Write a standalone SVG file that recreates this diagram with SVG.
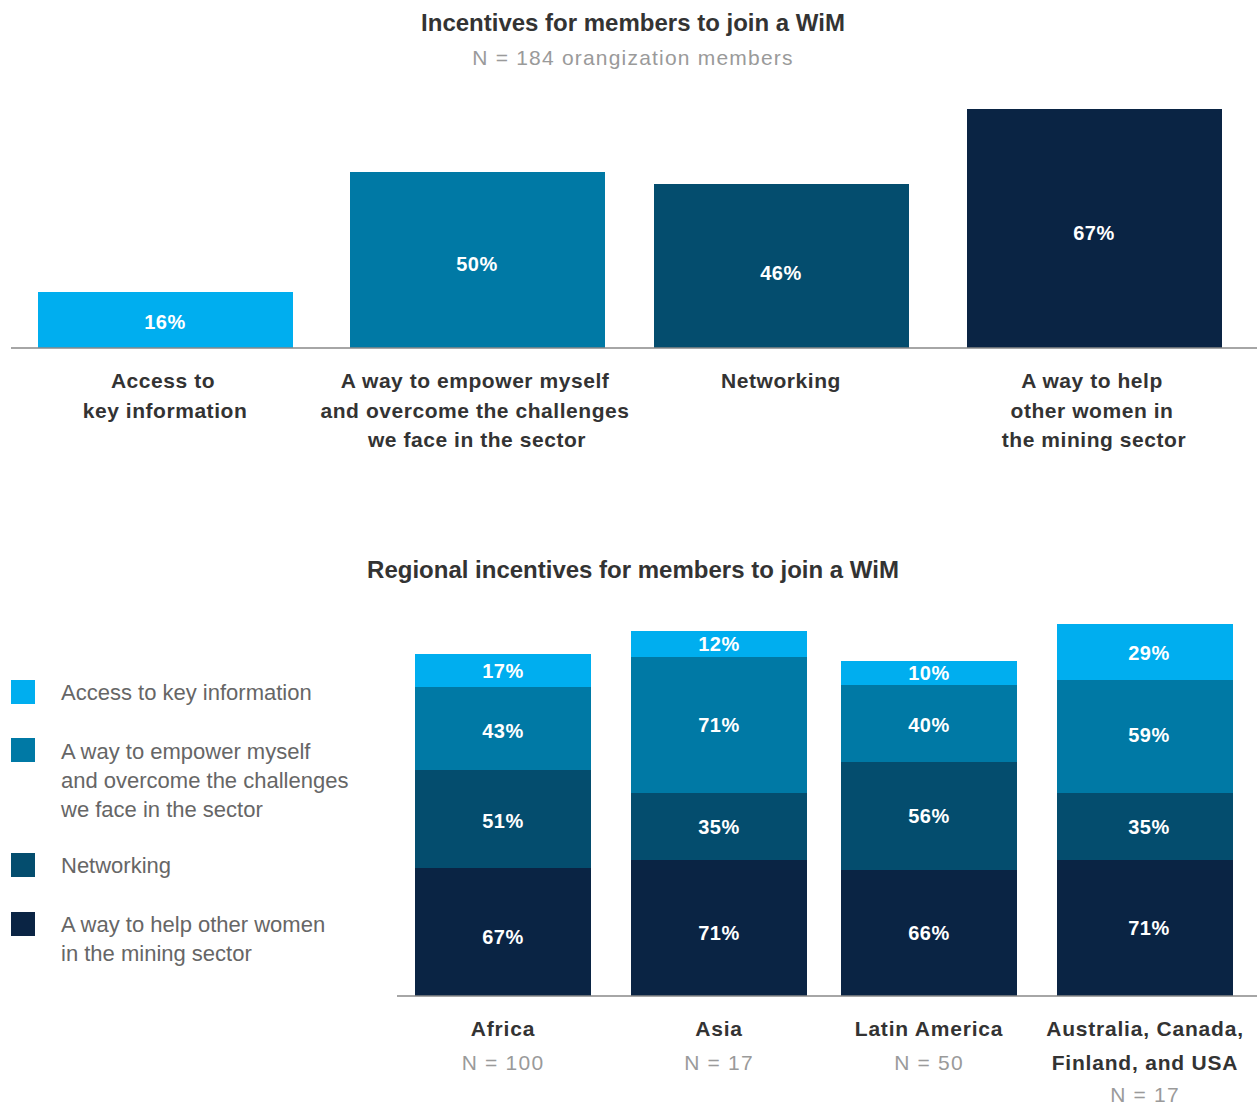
<svg xmlns="http://www.w3.org/2000/svg" width="1257" height="1104" viewBox="0 0 1257 1104">
<style>
.t{font-family:"Liberation Sans",Arial,sans-serif;font-weight:bold;fill:#333;text-anchor:middle;font-size:24px}
.sub{font-family:"Liberation Sans",Arial,sans-serif;fill:#9a9a9a;text-anchor:middle;font-size:21px;letter-spacing:1.2px}
.cat{font-family:"Liberation Sans",Arial,sans-serif;font-weight:bold;fill:#333;font-size:21px;letter-spacing:0.55px;text-anchor:middle}
.reg{font-family:"Liberation Sans",Arial,sans-serif;font-weight:bold;fill:#333;font-size:21px;letter-spacing:0.8px;text-anchor:middle}
.v{font-family:"Liberation Sans",Arial,sans-serif;font-weight:bold;fill:#fff;font-size:20px;letter-spacing:0.5px;text-anchor:middle}
.leg{font-family:"Liberation Sans",Arial,sans-serif;fill:#666;font-size:22px}
.c1{fill:#00aeef}.c2{fill:#0079a5}.c3{fill:#044d6e}.c4{fill:#0a2444}
.axis{stroke:#888;stroke-width:1.5}
</style>
<rect width="1257" height="1104" fill="#fff"/>
<text class="t" x="633" y="31">Incentives for members to join a WiM</text>
<text class="sub" x="633" y="65">N = 184 orangization members</text>

<g id="top-chart">
<g id="bar-access"><rect class="c1" x="38" y="292" width="255" height="56"/><text class="v" x="165" y="329">16%</text></g>
<g id="bar-empower"><rect class="c2" x="350" y="172" width="255" height="176"/><text class="v" x="477" y="271">50%</text></g>
<g id="bar-networking"><rect class="c3" x="654" y="184" width="255" height="164"/><text class="v" x="781" y="280">46%</text></g>
<g id="bar-help"><rect class="c4" x="967" y="109" width="255" height="239"/><text class="v" x="1094" y="240">67%</text></g>
<line class="axis" x1="11" y1="348" x2="1257" y2="348"/>
<g id="lab-access"><text class="cat" x="163" y="388">Access to</text><text class="cat" x="165" y="418">key information</text></g>
<g id="lab-empower"><text class="cat" x="475" y="388">A way to empower myself</text><text class="cat" x="475" y="418">and overcome the challenges</text><text class="cat" x="477" y="447">we face in the sector</text></g>
<g id="lab-networking"><text class="cat" x="781" y="388">Networking</text></g>
<g id="lab-help"><text class="cat" x="1092" y="388">A way to help</text><text class="cat" x="1092" y="418">other women in</text><text class="cat" x="1094" y="447">the mining sector</text></g>
</g>

<text class="t" x="633" y="578">Regional incentives for members to join a WiM</text>

<g id="legend">
<g id="leg-access"><rect class="c1" x="11" y="680" width="24" height="24"/><text class="leg" x="61" y="700">Access to key information</text></g>
<g id="leg-empower"><rect class="c2" x="11" y="738" width="24" height="24"/><text class="leg" x="61" y="759">A way to empower myself</text><text class="leg" x="61" y="788">and overcome the challenges</text><text class="leg" x="61" y="817">we face in the sector</text></g>
<g id="leg-networking"><rect class="c3" x="11" y="853" width="24" height="24"/><text class="leg" x="61" y="873">Networking</text></g>
<g id="leg-help"><rect class="c4" x="11" y="912" width="24" height="24"/><text class="leg" x="61" y="932">A way to help other women</text><text class="leg" x="61" y="961">in the mining sector</text></g>
</g>

<g id="bottom-chart">
<g id="africa">
<rect class="c1" x="415" y="654" width="176" height="33"/><rect class="c2" x="415" y="687" width="176" height="83"/><rect class="c3" x="415" y="770" width="176" height="98"/><rect class="c4" x="415" y="868" width="176" height="128"/>
<text class="v" x="503" y="678">17%</text><text class="v" x="503" y="738">43%</text><text class="v" x="503" y="828">51%</text><text class="v" x="503" y="944">67%</text>
</g>
<g id="asia">
<rect class="c1" x="631" y="631" width="176" height="26"/><rect class="c2" x="631" y="657" width="176" height="136"/><rect class="c3" x="631" y="793" width="176" height="67"/><rect class="c4" x="631" y="860" width="176" height="136"/>
<text class="v" x="719" y="651">12%</text><text class="v" x="719" y="732">71%</text><text class="v" x="719" y="834">35%</text><text class="v" x="719" y="940">71%</text>
</g>
<g id="latam">
<rect class="c1" x="841" y="661" width="176" height="24"/><rect class="c2" x="841" y="685" width="176" height="77"/><rect class="c3" x="841" y="762" width="176" height="108"/><rect class="c4" x="841" y="870" width="176" height="126"/>
<text class="v" x="929" y="680">10%</text><text class="v" x="929" y="732">40%</text><text class="v" x="929" y="823">56%</text><text class="v" x="929" y="940">66%</text>
</g>
<g id="aus">
<rect class="c1" x="1057" y="624" width="176" height="56"/><rect class="c2" x="1057" y="680" width="176" height="113"/><rect class="c3" x="1057" y="793" width="176" height="67"/><rect class="c4" x="1057" y="860" width="176" height="136"/>
<text class="v" x="1149" y="660">29%</text><text class="v" x="1149" y="742">59%</text><text class="v" x="1149" y="834">35%</text><text class="v" x="1149" y="935">71%</text>
</g>
<line class="axis" x1="397" y1="996" x2="1257" y2="996"/>
<g id="lab-africa"><text class="reg" x="503" y="1036">Africa</text><text class="sub" x="503" y="1070">N = 100</text></g>
<g id="lab-asia"><text class="reg" x="719" y="1036">Asia</text><text class="sub" x="719" y="1070">N = 17</text></g>
<g id="lab-latam"><text class="reg" x="929" y="1036">Latin America</text><text class="sub" x="929" y="1070">N = 50</text></g>
<g id="lab-aus"><text class="reg" x="1145" y="1036">Australia, Canada,</text><text class="reg" x="1145" y="1070">Finland, and USA</text><text class="sub" x="1145" y="1102">N = 17</text></g>
</g>
</svg>
